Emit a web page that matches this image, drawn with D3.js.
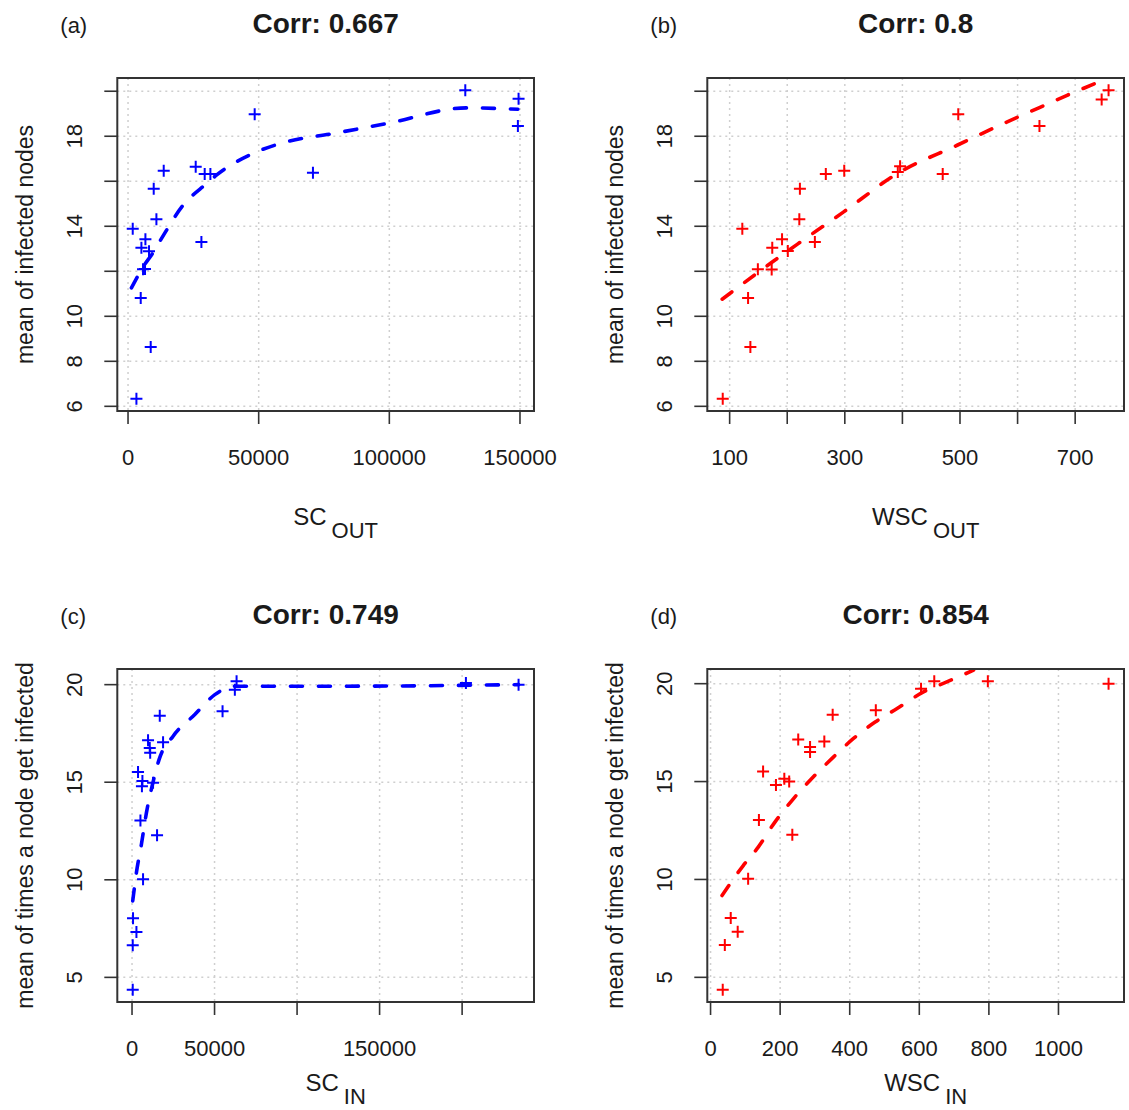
<!DOCTYPE html>
<html>
<head>
  <meta charset="utf-8">
  <title>Corr panels</title>
  <style>
    body { margin: 0; background: #fff; }
    text { font-family: 'Liberation Sans', Arial, sans-serif; fill: #1a1a1a; }
    .grid line { stroke: #cfcfcf; stroke-width: 1.5; stroke-dasharray: 2,4; }
    .tick-mark { stroke: #333; stroke-width: 1.6; }
  </style>
</head>
<body>
  <div id="plot"></div>
  <script src="https://cdn.jsdelivr.net/npm/d3@7"></script>
  <script>

    function translate(x, y) {
      return 'translate(' + x + ', ' + y + ')';
    }

    // (a) SC_OUT vs mean of infected nodes
    let scOut = [129070, 149460, 149200, 48470, 70770, 25900, 29340, 31520, 13660, 9830, 10860,
                 1800, 6650, 28080, 5120, 8030, 5740, 6500, 4860, 8680, 3210];
    let scOutInfected = [20.04, 19.67, 18.46, 18.98, 16.38, 16.65, 16.32, 16.32, 16.47, 15.67, 14.31,
                         13.89, 13.42, 13.30, 13.05, 12.89, 12.09, 12.10, 10.81, 8.64, 6.34];
    let scOutFitX = [1300, 5740, 9570, 12780, 21040, 29990, 33820, 49120, 60600, 78430, 100130, 129450, 149200];
    let scOutFitY = [11.26, 12.19, 12.83, 13.45, 14.93, 15.89, 16.27, 17.30, 17.75, 18.12, 18.59, 19.26, 19.20];

    // (b) WSC_OUT vs mean of infected nodes
    let wscOut = [758, 746, 497, 638, 396, 392, 470, 267, 299, 222, 221,
                  122, 191, 248, 174, 201, 149, 173, 132, 136, 88];
    let wscOutInfected = [20.04, 19.63, 18.98, 18.46, 16.67, 16.41, 16.32, 16.32, 16.47, 15.67, 14.31,
                          13.89, 13.42, 13.30, 13.05, 12.90, 12.09, 12.08, 10.81, 8.64, 6.34];
    let wscOutFitX = [87, 174, 223, 298, 391, 495, 582, 634, 686, 738];
    let wscOutFitY = [10.76, 12.41, 13.30, 14.64, 16.34, 17.60, 18.64, 19.23, 19.82, 20.38];

    // (c) SC_IN vs mean of times a node get infected
    let scIn = [234200, 202300, 63350, 62300, 54850, 16810, 9710, 18810, 10740, 11000, 3640,
                6300, 6000, 12740, 5100, 15170, 6680, 610, 2670, 430, 430];
    let scInInfected = [20.00, 20.09, 20.17, 19.74, 18.64, 18.41, 17.15, 17.05, 16.76, 16.51, 15.52,
                        15.06, 14.80, 14.97, 13.04, 12.28, 10.03, 8.03, 7.33, 6.65, 4.37];
    let scInFitX = [430, 2670, 5700, 8740, 12380, 16380, 24880, 38050, 50190, 62330, 122000, 234200];
    let scInFitY = [8.92, 10.37, 11.82, 13.44, 14.88, 16.16, 17.36, 18.47, 19.49, 19.92, 19.92, 20.00];

    // (d) WSC_IN vs mean of times a node get infected
    let wscIn = [1144, 797, 643, 605, 475, 351, 252, 327, 286, 286, 151,
                 212, 226, 188, 139, 235, 108, 58, 78, 41, 35];
    let wscInInfected = [20.00, 20.12, 20.12, 19.74, 18.64, 18.41, 17.15, 17.05, 16.76, 16.51, 15.52,
                         15.14, 15.00, 14.83, 13.04, 12.28, 10.03, 8.03, 7.33, 6.65, 4.37];
    let wscInFitX = [33, 94, 137, 185, 238, 295, 353, 410, 473, 535, 612, 679, 756];
    let wscInFitY = [9.18, 10.71, 11.65, 12.93, 14.12, 15.23, 16.25, 17.19, 18.04, 18.72, 19.58, 20.09, 20.69];

    let corrs = ['0.667', '0.8', '0.749', '0.854'];

    let yTicksOut = [6, 8, 10, 12, 14, 16, 18, 20];
    let yLabelsOut = [6, 8, 10, 14, 18];
    let yTicksIn = [5, 10, 15, 20];
    let xTicksScOut = [0, 50000, 100000, 150000];
    let xTicksWscOut = [100, 200, 300, 400, 500, 600, 700];
    let xLabelsWscOut = [100, 300, 500, 700];
    let xTicksScIn = [0, 50000, 100000, 150000, 200000];
    let xLabelsScIn = [0, 50000, 150000];
    let xTicksWscIn = [0, 200, 400, 600, 800, 1000];

    let svgWidth = 1129;
    let svgHeight = 1110;
    let boxW = 416.7;
    let boxH = 333;

    let svg = d3.select('#plot')
      .append('svg')
        .attr('width', svgWidth)
        .attr('height', svgHeight);

    let panels = [
      {tag: '(a)', left: 117.3, top: 78, xs: scOut, ys: scOutInfected, fx: scOutFitX, fy: scOutFitY,
       color: '#0000ff', xTicks: xTicksScOut, xLabels: xTicksScOut, yTicks: yTicksOut, yLabels: yLabelsOut,
       xName: 'SC', xSub: 'OUT', xNameY: 114, yName: 'mean of infected nodes'},
      {tag: '(b)', left: 707.3, top: 78, xs: wscOut, ys: wscOutInfected, fx: wscOutFitX, fy: wscOutFitY,
       color: '#ff0000', xTicks: xTicksWscOut, xLabels: xLabelsWscOut, yTicks: yTicksOut, yLabels: yLabelsOut,
       xName: 'WSC', xSub: 'OUT', xNameY: 114, yName: 'mean of infected nodes'},
      {tag: '(c)', left: 117.3, top: 669, xs: scIn, ys: scInInfected, fx: scInFitX, fy: scInFitY,
       color: '#0000ff', xTicks: xTicksScIn, xLabels: xLabelsScIn, yTicks: yTicksIn, yLabels: yTicksIn,
       xName: 'SC', xSub: 'IN', xNameY: 89, yName: 'mean of times a node get infected'},
      {tag: '(d)', left: 707.3, top: 669, xs: wscIn, ys: wscInInfected, fx: wscInFitX, fy: wscInFitY,
       color: '#ff0000', xTicks: xTicksWscIn, xLabels: xTicksWscIn, yTicks: yTicksIn, yLabels: yTicksIn,
       xName: 'WSC', xSub: 'IN', xNameY: 89, yName: 'mean of times a node get infected'}
    ];

    // R style axis limits: data range padded by 4% on both sides
    function padded(values) {
      let ext = d3.extent(values);
      let pad = (ext[1] - ext[0]) * 0.04;
      return [ext[0] - pad, ext[1] + pad];
    }

    function drawPanel(p, i) {
      let g = svg.append('g')
        .attr('transform', translate(p.left, p.top));

      let x = d3.scaleLinear().domain(padded(p.xs)).range([0, boxW]);
      let y = d3.scaleLinear().domain(padded(p.ys)).range([boxH, 0]);

      g.append('clipPath')
        .attr('id', 'clip' + i)
        .append('rect')
          .attr('width', boxW)
          .attr('height', boxH);

      // dotted grid at the tick positions
      let grid = g.append('g').attr('class', 'grid');
      grid.selectAll('.gx')
        .data(p.xTicks)
        .enter()
        .append('line')
          .attr('x1', d => x(d))
          .attr('x2', d => x(d))
          .attr('y1', 0)
          .attr('y2', boxH);
      grid.selectAll('.gy')
        .data(p.yTicks)
        .enter()
        .append('line')
          .attr('x1', 0)
          .attr('x2', boxW)
          .attr('y1', d => y(d))
          .attr('y2', d => y(d));

      // fitted dashed curve
      let fit = p.fx.map((v, k) => [v, p.fy[k]]);
      g.append('path')
        .datum(fit)
        .attr('clip-path', 'url(#clip' + i + ')')
        .attr('fill', 'none')
        .attr('stroke', p.color)
        .attr('stroke-width', 3.6)
        .attr('stroke-dasharray', '12,16')
        .attr('stroke-linecap', 'round')
        .attr('d', d3.line()
          .x(d => x(d[0]))
          .y(d => y(d[1]))
          .curve(d3.curveMonotoneX));

      // plus symbols
      let pts = p.xs.map((v, k) => [v, p.ys[k]]);
      g.selectAll('.pt')
        .data(pts)
        .enter()
        .append('path')
          .attr('class', 'pt')
          .attr('transform', d => translate(x(d[0]), y(d[1])))
          .attr('d', 'M-6,0H6M0,-6V6')
          .attr('stroke', p.color)
          .attr('stroke-width', 2);

      // box
      g.append('rect')
        .attr('width', boxW)
        .attr('height', boxH)
        .attr('fill', 'none')
        .attr('stroke', '#333')
        .attr('stroke-width', 2);

      // ticks
      g.selectAll('.xt')
        .data(p.xTicks)
        .enter()
        .append('line')
          .attr('class', 'tick-mark')
          .attr('x1', d => x(d))
          .attr('x2', d => x(d))
          .attr('y1', boxH)
          .attr('y2', boxH + 13);
      g.selectAll('.yt')
        .data(p.yTicks)
        .enter()
        .append('line')
          .attr('class', 'tick-mark')
          .attr('x1', 0)
          .attr('x2', -13)
          .attr('y1', d => y(d))
          .attr('y2', d => y(d));

      g.selectAll('.xl')
        .data(p.xLabels)
        .enter()
        .append('text')
          .attr('x', d => x(d))
          .attr('y', boxH + 54)
          .attr('text-anchor', 'middle')
          .style('font-size', '22px')
          .text(d => d);
      g.selectAll('.yl')
        .data(p.yLabels)
        .enter()
        .append('text')
          .attr('transform', d => translate(-35, y(d)) + ' rotate(-90)')
          .attr('text-anchor', 'middle')
          .style('font-size', '22px')
          .text(d => d);

      // axis titles
      let xt = g.append('text')
        .attr('x', boxW / 2 + 10)
        .attr('y', boxH + p.xNameY)
        .attr('text-anchor', 'middle')
        .style('font-size', '24px')
        .text(p.xName);
      xt.append('tspan')
        .attr('dx', 5)
        .attr('dy', 13)
        .style('font-size', '22px')
        .text(p.xSub);

      g.append('text')
        .attr('transform', translate(-84, boxH / 2) + ' rotate(-90)')
        .attr('text-anchor', 'middle')
        .style('font-size', '23px')
        .text(p.yName);

      // panel tag and title
      g.append('text')
        .attr('x', -57)
        .attr('y', -45)
        .style('font-size', '22px')
        .text(p.tag);
      g.append('text')
        .attr('x', boxW / 2)
        .attr('y', -45)
        .attr('text-anchor', 'middle')
        .style('font-size', '28px')
        .style('font-weight', 'bold')
        .text('Corr: ' + corrs[i]);
    }

    panels.forEach(drawPanel);

  </script>
</body>
</html>
